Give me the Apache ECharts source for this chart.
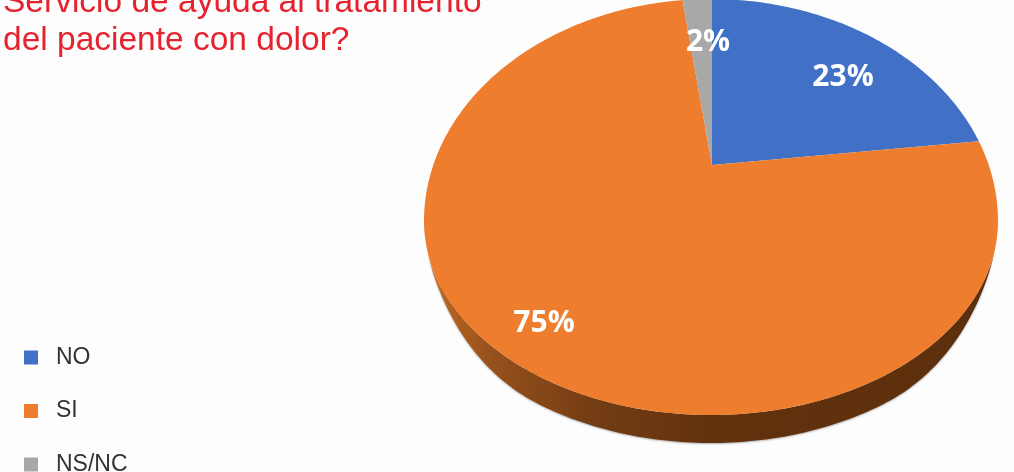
<!DOCTYPE html>
<html><head><meta charset="utf-8">
<style>html,body{margin:0;padding:0;background:#fdfdfd;overflow:hidden}#c{width:1014px;height:472px}</style>
<script src="https://cdn.jsdelivr.net/npm/echarts@6/dist/echarts.min.js"></script>
</head><body><div id="c"></div>
<script>
const categories = ['NO', 'SI', 'NS/NC'];
const percents = [23, 75, 2];
const colors = ['#4171c6', '#ee7d2e', '#a8a8a8'];
const titleLines = ['Servicio de ayuda al tratamiento', 'del paciente con dolor?'];

// Tilted-disc geometry (pixels), separate from the data
const apex = [712, 165], disc = {cx: 711, cy: 221, rx: 287, ryUp: 222, ryDown: 194}, depth = 28;
const tilt = {p: 0.2048, A: 198.8, B: 281};
const labelSpots = [[843, 77], [544, 323], [708, 42]];

function inside(x, y) {
  const ry = y < disc.cy ? disc.ryUp : disc.ryDown;
  const a = (x - disc.cx) / disc.rx, b = (y - disc.cy) / ry;
  return a * a + b * b < 1;
}
// clockwise fraction of the turn from 12 o'clock -> point on the disc rim
function rim(frac) {
  const th = frac * 2 * Math.PI, u = Math.sin(th), v = Math.cos(th), w = 1 + tilt.p * v;
  const dx = tilt.B * u / w, dy = -tilt.A * v / w;
  let lo = 0, hi = 3;
  for (let i = 0; i < 30; i++) {
    const m = (lo + hi) / 2;
    if (inside(apex[0] + dx * m, apex[1] + dy * m)) lo = m; else hi = m;
  }
  return [apex[0] + dx * lo, apex[1] + dy * lo];
}
function taper(s) {
  const k = Math.max(0, Math.min(1, (s - 0.1) / 0.7));
  return k * k * (3 - 2 * k);
}
function sidePoints() {
  const top = [], bottom = [];
  for (let i = 0; i <= 180; i++) {
    const t = i / 180 * Math.PI, s = Math.sin(t);
    const x = disc.cx + disc.rx * Math.cos(t), y = disc.cy + disc.ryDown * s;
    top.push([x, y]);
    bottom.push([x, y + depth * taper(s)]);
  }
  return top.concat(bottom.reverse());
}
const total = percents.reduce((a, b) => a + b, 0);

function renderSlice(params, api) {
  const idx = params.seriesIndex;
  const before = percents.slice(0, idx).reduce((a, b) => a + b, 0);
  const val = api.value(0);
  const start = before / total, end = (before + val) / total;
  const n = Math.max(2, Math.ceil((end - start) * 360));
  const pts = [apex];
  for (let i = 0; i <= n; i++) pts.push(rim(start + (end - start) * i / n));
  const children = [];
  if (idx === 1) {
    children.push({
      type: 'polygon', shape: {points: sidePoints()},
      style: {
        fill: new echarts.graphic.LinearGradient(0, 0, 1, 0, [
          {offset: 0, color: '#e27a30'}, {offset: 0.04, color: '#b5621f'},
          {offset: 0.12, color: '#96501c'}, {offset: 0.3, color: '#733c13'},
          {offset: 0.5, color: '#62320e'}, {offset: 1, color: '#5c2f0c'}
        ]),
        shadowColor: 'rgba(0,0,0,0.3)', shadowBlur: 2, shadowOffsetY: 1
      }
    });
  }
  children.push({type: 'polygon', shape: {points: pts}, style: {fill: colors[idx]}});
  children.push({
    type: 'text', z2: 10,
    style: {
      x: labelSpots[idx][0], y: labelSpots[idx][1], text: val + '%', fill: '#fff',
      font: 'bold 30px "Open Sans"', align: 'center', verticalAlign: 'middle'
    }
  });
  return {type: 'group', children};
}

const chart = echarts.init(document.getElementById('c'));
chart.setOption({
  backgroundColor: '#fdfdfd',
  animation: false,
  title: {
    text: titleLines.join('\n'), left: 3, top: -16, padding: 0,
    textStyle: {color: '#e5222d', fontFamily: 'Liberation Sans', fontWeight: 'normal', fontSize: 33.5, lineHeight: 38}
  },
  legend: {
    orient: 'vertical', left: 24, top: 346, height: 200, padding: 0,
    data: categories, icon: 'rect', itemWidth: 14, itemHeight: 14, itemGap: 30.5,
    selectedMode: false,
    textStyle: {color: '#333', fontFamily: 'Liberation Sans', fontSize: 23, padding: [0, 0, 0, 13]}
  },
  series: categories.map((name, i) => ({
    type: 'custom', name, coordinateSystem: 'none', silent: true,
    itemStyle: {color: colors[i]},
    data: [[percents[i]]],
    renderItem: renderSlice
  }))
});
</script></body></html>
